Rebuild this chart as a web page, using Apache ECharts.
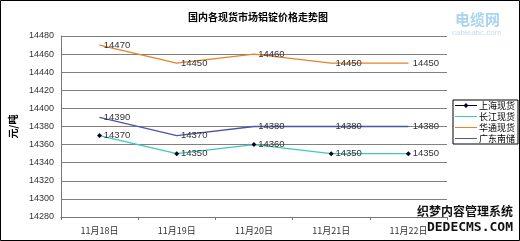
<!DOCTYPE html>
<html><head><meta charset="utf-8">
<script src="https://cdn.jsdelivr.net/npm/echarts@6/dist/echarts.min.js"></script>
<style>html,body{margin:0;padding:0;background:#fff}#c{width:520px;height:241px}</style>
</head><body><div id="c"></div>
<script>
var categories = ['11月18日','11月19日','11月20日','11月21日','11月22日'];
var shanghai = [14370,14350,14360,14350,14350];
var changjiang = [14370,14350,14360,14350,14350];
var huatong = [14470,14450,14460,14450,14450];
var guangdong = [14390,14370,14380,14380,14380];
var yTicks = {min:14280, max:14480, interval:20};
var seriesNames = ['上海现货','长江现货','华通现货','广东南储'];

var lineIcon = 'path://M0,0L0.01,0L0.01,0.01Z M0,3.4L22,3.4L22,4.6L0,4.6Z M21.99,8L22,8L22,7.99Z';
var markIcon = 'path://M0,0L0.01,0L0.01,0.01Z M0,3.4L22,3.4L22,4.6L0,4.6Z M11,1.5L13.5,4L11,6.5L8.5,4Z M21.99,8L22,8L22,7.99Z';

var chart = echarts.init(document.getElementById('c'));
var lbl = {show:true, position:'right', distance:4, fontSize:9.5, color:'#333', fontFamily:'Liberation Sans'};
chart.setOption({
  animation:false,
  backgroundColor:'#fff',
  title:{text:'国内各现货市场铝锭价格走势图', left:253, top:7, textAlign:'center',
    textStyle:{fontSize:10, fontWeight:'bold', color:'#000', fontFamily:'Noto Sans CJK SC'}},
  grid:{left:52, right:73, top:36, bottom:24},
  legend:{orient:'vertical', left:453, top:100, itemWidth:22, itemHeight:8, itemGap:2,
    data:[
      {name:seriesNames[0], icon:markIcon},
      {name:seriesNames[1], icon:lineIcon},
      {name:seriesNames[2], icon:lineIcon},
      {name:seriesNames[3], icon:lineIcon}
    ],
    padding:[1,3,1,2], borderColor:'#000', borderWidth:1,
    textStyle:{fontSize:9, lineHeight:9, color:'#000', padding:[0,0,0,-3], fontFamily:'Noto Sans CJK SC'}},
  xAxis:{type:'category', data:categories, boundaryGap:true,
    axisLine:{lineStyle:{color:'#777'}}, axisTick:{show:true, length:3, lineStyle:{color:'#777'}},
    axisLabel:{fontSize:9, color:'#333', margin:9, fontFamily:'Noto Sans CJK SC'}},
  yAxis:{type:'value', min:yTicks.min, max:yTicks.max, interval:yTicks.interval,
    name:'元/吨', nameLocation:'middle', nameRotate:90, nameGap:38,
    nameTextStyle:{fontSize:10, fontWeight:'bold', color:'#000', fontFamily:'Noto Sans CJK SC'},
    axisLine:{show:true, lineStyle:{color:'#777'}}, axisTick:{show:false},
    axisLabel:{fontSize:9, color:'#333', margin:7, fontFamily:'Liberation Sans', formatter:function(v){return String(v);}},
    splitLine:{lineStyle:{color:'#808080', width:1}}},
  series:[
    {name:seriesNames[0], type:'line', data:shanghai, symbol:'diamond', symbolSize:5, z:4,
      itemStyle:{color:'#000033'}, lineStyle:{color:'#000066', width:1.3, opacity:0}},
    {name:seriesNames[1], type:'line', data:changjiang, symbol:'circle', symbolSize:0.5, showSymbol:true,
      itemStyle:{color:'#40C8B8'}, lineStyle:{color:'#40C8B8', width:1.3}, label:lbl},
    {name:seriesNames[2], type:'line', data:huatong, symbol:'circle', symbolSize:0.5, showSymbol:true,
      itemStyle:{color:'#E8822A'}, lineStyle:{color:'#E8822A', width:1.3}, label:lbl},
    {name:seriesNames[3], type:'line', data:guangdong, symbol:'circle', symbolSize:0.5, showSymbol:true,
      itemStyle:{color:'#4A55A8'}, lineStyle:{color:'#4A55A8', width:1.3}, label:lbl}
  ],
  graphic:[
    {type:'rect', shape:{x:0.5,y:0.5,width:519,height:240}, style:{fill:null, stroke:'#000', lineWidth:1}, silent:true},
    {type:'text', left:455, top:12, style:{text:'电缆网', fontSize:15, fontWeight:'bold', fill:'#A9D4EE', fontFamily:'Noto Sans CJK SC'}},
    {type:'text', left:452, top:29, style:{text:'cableabc.com', fontSize:8, fill:'#BFE0F2', fontFamily:'Liberation Sans'}},
    {type:'text', right:6, top:204, style:{text:'织梦内容管理系统', fontSize:12, fontWeight:'bold', fill:'#111', stroke:'#fff', lineWidth:2, fontFamily:'Noto Sans CJK SC'}},
    {type:'text', right:6, top:220, style:{text:'DEDECMS.COM', fontSize:13, fontWeight:'bold', fill:'#111', stroke:'#fff', lineWidth:2, fontFamily:'DejaVu Sans Mono'}}
  ]
});
</script></body></html>
